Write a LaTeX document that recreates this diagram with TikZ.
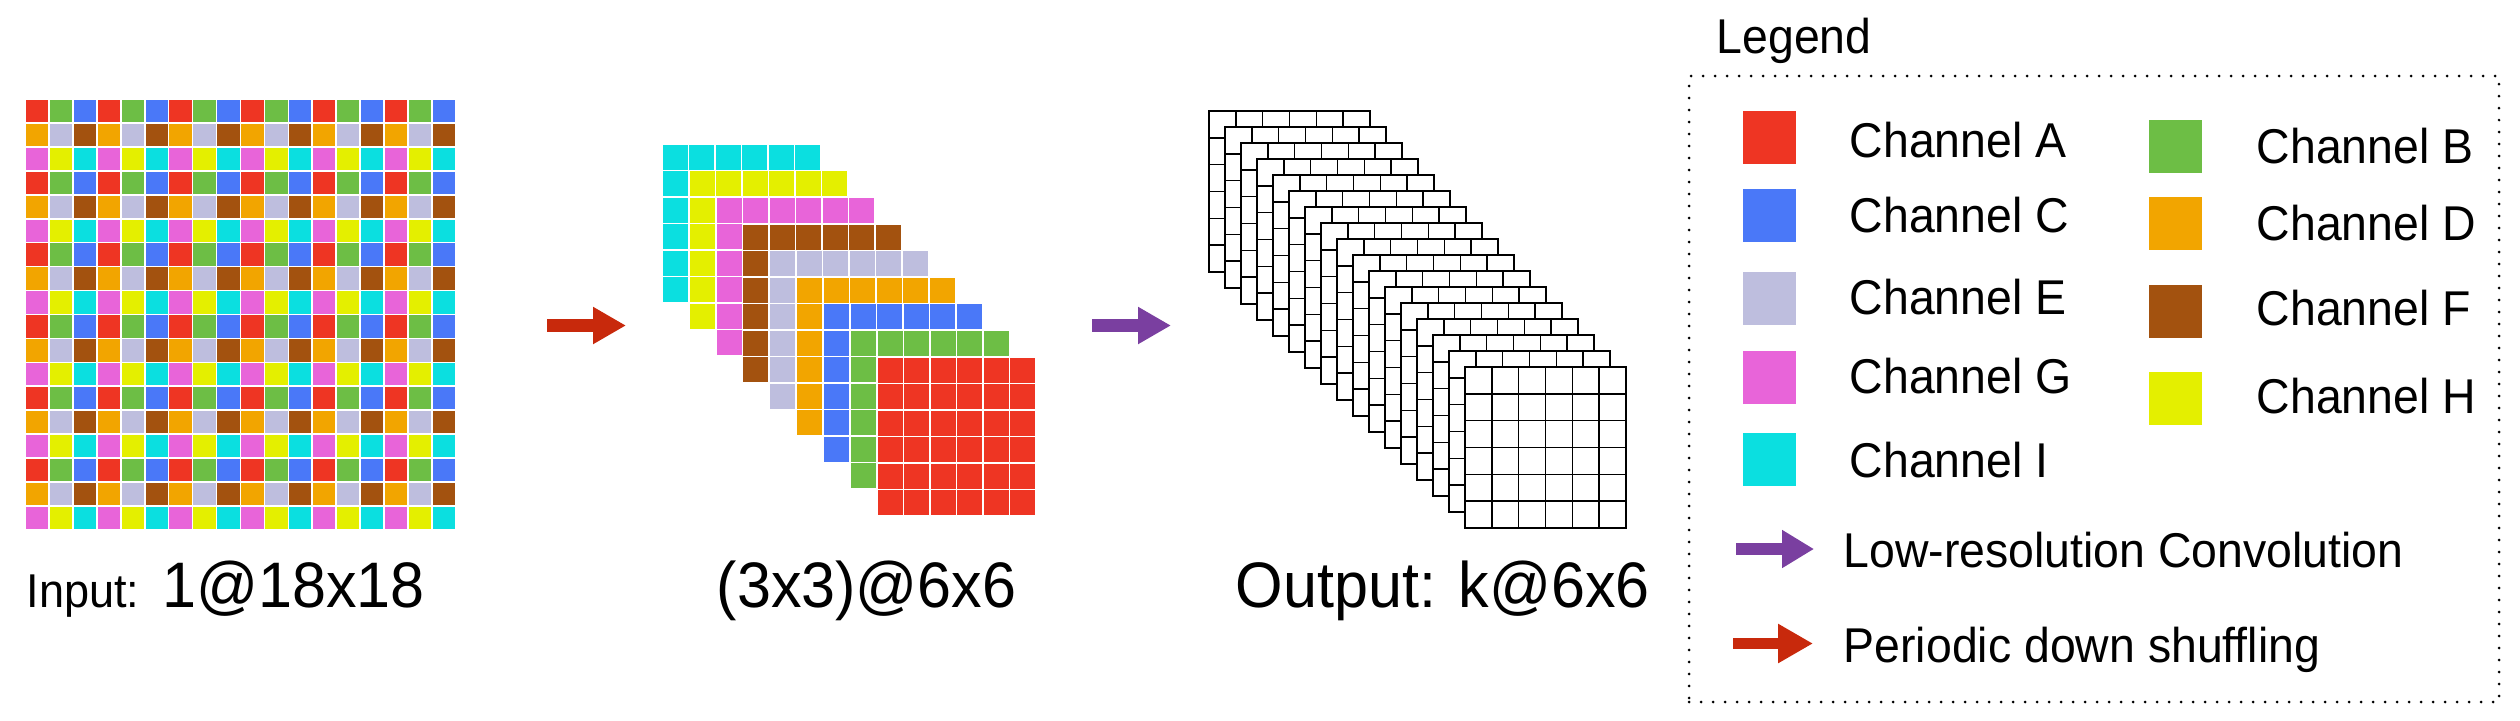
\documentclass[tikz,border=0pt]{standalone}
\usepackage{fontspec}
\setmainfont{Liberation Sans}[FakeStretch=0.95]
\usetikzlibrary{arrows.meta}
\definecolor{c0}{HTML}{EE3523}% A
\definecolor{c1}{HTML}{6DBE45}% B
\definecolor{c2}{HTML}{4A78F8}% C
\definecolor{c3}{HTML}{F2A500}% D
\definecolor{c4}{HTML}{BEBEDE}% E
\definecolor{c5}{HTML}{A3520F}% F
\definecolor{c6}{HTML}{E864D9}% G
\definecolor{c7}{HTML}{E4EF00}% H
\definecolor{c8}{HTML}{0BDFE0}% I
\definecolor{arrred}{HTML}{C8290C}
\definecolor{arrpurple}{HTML}{7A3FA0}
\tikzset{
  lbl/.style={inner sep=0pt, anchor=base west, font=\fontsize{18.3pt}{20pt}\selectfont},
  leg/.style={inner sep=0pt, anchor=base west, font=\fontsize{13.9pt}{16pt}\selectfont},
  legsq/.style={inner sep=0pt, minimum size=5.3mm, draw=none},
  blockarrow/.style={line width=1.3mm},
  legbox/.style={draw, line width=0.3mm, line cap=round, dash pattern=on 0pt off 1.2mm,
                 minimum width=81mm, minimum height=62.6mm, inner sep=0pt},
  stackcell/.style={draw=white, line width=0.15mm},
  outlayer/.style={draw=black, line width=0.42pt, fill=white},
}
\begin{document}
\begin{tikzpicture}[x=0.1mm, y=-0.1mm]
\useasboundingbox (0,0) rectangle (2520,720);

% ---------------- input grid 18x18 ----------------
\foreach \r in {0,...,17}{
  \foreach \c in {0,...,17}{
    \pgfmathtruncatemacro\k{mod(\r,3)*3+mod(\c,3)}
    \fill[c\k] ({25+\c*23.94+0.8},{99+\r*23.94+0.8}) rectangle ++(22.3,22.3);
  }
}

% ---------------- middle stack: 9 layers of 6x6 ----------------
\foreach \i in {0,...,8}{
  \pgfmathtruncatemacro\k{8-\i}
  \pgfmathsetmacro\ox{662+\i*26.9}
  \pgfmathsetmacro\oy{144+\i*26.6}
  \foreach \r in {0,...,5}{
    \foreach \c in {0,...,5}{
      \filldraw[stackcell, fill=c\k] ({\ox+\c*26.5},{\oy+\r*26.5}) rectangle ++(26.5,26.5);
    }
  }
}

% ---------------- output stack: 17 layers of 6x6 ----------------
\foreach \i in {0,...,16}{
  \pgfmathsetmacro\ox{1209+\i*16}
  \pgfmathsetmacro\oy{111+\i*16}
  \filldraw[outlayer] (\ox,\oy) rectangle ++(161,161);
  \foreach \k in {1,...,5}{
    \draw[line width=0.42pt] ({\ox+\k*26.83},\oy) -- ++(0,161);
    \draw[line width=0.42pt] (\ox,{\oy+\k*26.83}) -- ++(161,0);
  }
}

% ---------------- main arrows ----------------
\coordinate (ra1) at (547,325.5);
\coordinate (ra2) at (626,325.5);
\coordinate (pa1) at (1092,325.5);
\coordinate (pa2) at (1171,325.5);
\draw[blockarrow, arrred, -{Triangle[length=3.3mm, width=3.5mm]}] (ra1) -- (ra2);
\draw[blockarrow, arrpurple, -{Triangle[length=3.3mm, width=3.5mm]}] (pa1) -- (pa2);

% ---------------- labels ----------------
\node[lbl] (inlbl) at (26,607) {{\fontsize{13.5pt}{16pt}\selectfont Input:} 1@18x18};
\node[lbl] (midlbl) at (716,607) {(3x3)@6x6};
\node[lbl] (outlbl) at (1235,607) {Output: k@6x6};

% ---------------- legend ----------------
\node[leg] (legtitle) at (1716,53) {Legend};
\node[legbox] (legbox) at (2094,389) {};

\node[legsq, fill=c0] (sqA) at (1769.5,137.5) {};
\node[legsq, fill=c2] (sqC) at (1769.5,215.5) {};
\node[legsq, fill=c4] (sqE) at (1769.5,298) {};
\node[legsq, fill=c6] (sqG) at (1769.5,377.5) {};
\node[legsq, fill=c8] (sqI) at (1769.5,459.5) {};
\node[legsq, fill=c1] (sqB) at (2175.5,146) {};
\node[legsq, fill=c3] (sqD) at (2175.5,223) {};
\node[legsq, fill=c5] (sqF) at (2175.5,311) {};
\node[legsq, fill=c7] (sqH) at (2175.5,398) {};

\node[leg] (tA) at (1849,157) {Channel A};
\node[leg] (tC) at (1849,232) {Channel C};
\node[leg] (tE) at (1849,314) {Channel E};
\node[leg] (tG) at (1849,393) {Channel G};
\node[leg] (tI) at (1849,477) {Channel I};
\node[leg] (tB) at (2256,163) {Channel B};
\node[leg] (tD) at (2256,240) {Channel D};
\node[leg] (tF) at (2256,325) {Channel F};
\node[leg] (tH) at (2256,413) {Channel H};

\coordinate (lp1) at (1736,549);
\coordinate (lp2) at (1814,549);
\coordinate (lr1) at (1733,643.5);
\coordinate (lr2) at (1813,643.5);
\draw[arrpurple, line width=1.2mm, -{Triangle[length=3.2mm, width=3.6mm]}] (lp1) -- (lp2);
\draw[arrred, line width=1.15mm, -{Triangle[length=3.5mm, width=3.7mm]}] (lr1) -- (lr2);
\node[leg] (tLow) at (1843,567) {Low-resolution Convolution};
\node[leg] (tPer) at (1843,662) {Periodic down shuffling};
\end{tikzpicture}
\end{document}
